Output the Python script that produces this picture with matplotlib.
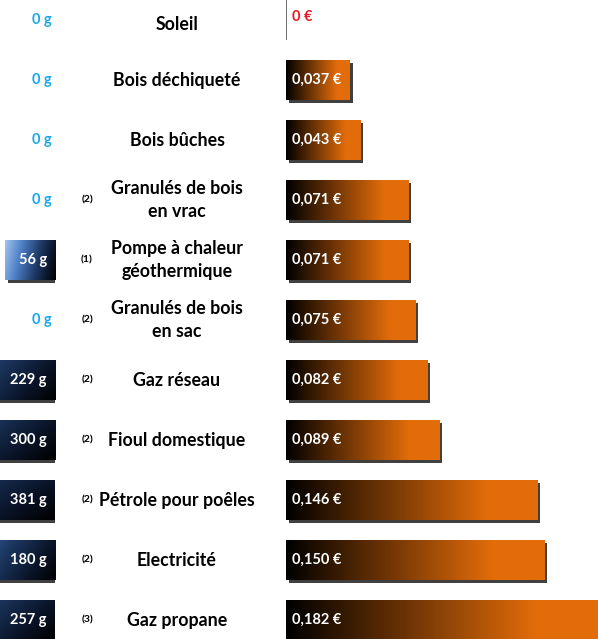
import numpy as np
import matplotlib
matplotlib.use("Agg")
import matplotlib.pyplot as plt
from matplotlib.colors import LinearSegmentedColormap
import matplotlib.patheffects as pe

# data
categories = ["Soleil", "Bois déchiqueté", "Bois bûches", "Granulés de bois\nen vrac",
              "Pompe à chaleur\ngéothermique", "Granulés de bois\nen sac", "Gaz réseau",
              "Fioul domestique", "Pétrole pour poêles", "Electricité", "Gaz propane"]
notes = ["", "", "", "(2)", "(1)", "(2)", "(2)", "(2)", "(2)", "(2)", "(3)"]
co2_g = [0, 0, 0, 0, 56, 0, 229, 300, 381, 180, 257]
price_eur = [0, 0.037, 0.043, 0.071, 0.071, 0.075, 0.082, 0.089, 0.146, 0.150, 0.182]

W, H = 598, 639
FONT = "Lato"
ORANGE = "#E36C0A"
LIGHT_BLUE = "#1AA7EC"
RED = "#E31B23"

orange_cmap = LinearSegmentedColormap.from_list(
    "orange", [(0, "#000000"), (0.8, ORANGE), (1, ORANGE)])
blue_cmap = LinearSegmentedColormap.from_list(
    "blue", [(0, "#A3C4F0"), (0.3, "#4E80C6"), (0.62, "#1E3A66"),
             (0.85, "#0A1428"), (1, "#000000")])

n = len(categories)
bar_h = 0.68
ylim = ((H - 20) / 60, -20 / 60)
co2_max = 61          # grams shown across the 55 px left panel
eur_px = 1722         # pixels per euro on the right panel

fig = plt.figure(figsize=(W / 100, H / 100), dpi=100)
ax_txt = fig.add_axes([0, 0, 1, 1])
ax_co2 = fig.add_axes([0, 0, 55 / W, 1])
ax_eur = fig.add_axes([286 / W, 0, 312 / W, 1])
for ax in (ax_txt, ax_co2, ax_eur):
    ax.set_axis_off()
    ax.patch.set_alpha(0)

shadow = [pe.SimplePatchShadow(offset=(2.2, -2.2), shadow_rgbFace="black", alpha=0.75),
          pe.Normal()]

# CO2 bars (clipped on the left, gradient runs over the whole bar)
ys = np.arange(n)
bars = ax_co2.barh(ys, co2_g, height=bar_h, color="#0A1428", zorder=1)
for b, v, y in zip(bars, co2_g, ys):
    if v == 0:
        ax_co2.text(co2_max * 3 / 55, y, "0 g", ha="right", va="center",
                    color=LIGHT_BLUE, fontsize=10.5, fontweight="bold", family=FONT)
        continue
    b.set_path_effects(shadow)
    hx = np.linspace(0, 1, 200)[None, :]
    vy = np.linspace(0, 1, 40)[:, None]
    grad = 0.85 * hx + 0.15 * vy
    im = ax_co2.imshow(grad, cmap=blue_cmap, vmin=0, vmax=1, aspect="auto",
                       extent=(v, 0, y + bar_h / 2, y - bar_h / 2), zorder=2,
                       interpolation="bilinear")
    im.set_clip_path(b)
    ax_co2.text(co2_max * 8 / 55, y, f"{v} g", ha="right", va="center", color="white",
                fontsize=10.5, fontweight="bold", family=FONT, zorder=3)
ax_co2.set_xlim(co2_max, 0)
ax_co2.set_ylim(*ylim)

# price bars
bars = ax_eur.barh(ys, price_eur, height=bar_h, color=ORANGE, zorder=1)
for b, v, y in zip(bars, price_eur, ys):
    if v == 0:
        b.set_edgecolor("#555555")
        b.set_linewidth(1.2)
        ax_eur.text(6 / eur_px, y - 0.05, "0 €", ha="left", va="center", color=RED,
                    fontsize=10.5, fontweight="bold", family=FONT)
        continue
    b.set_path_effects(shadow)
    im = ax_eur.imshow(np.linspace(0, 1, 256)[None, :], cmap=orange_cmap, vmin=0, vmax=1,
                       aspect="auto", extent=(0, v, y + bar_h / 2, y - bar_h / 2),
                       zorder=2, interpolation="bilinear")
    im.set_clip_path(b)
    label = f"{v:.3f}".replace(".", ",") + " €"
    ax_eur.text(6 / eur_px, y, label, ha="left", va="center", color="white",
                fontsize=10.5, fontweight="bold", family=FONT, zorder=3)
ax_eur.set_xlim(0, 312 / eur_px)
ax_eur.set_ylim(*ylim)

# category labels and footnotes
ax_txt.set_xlim(0, W)
ax_txt.set_ylim(*ylim)
for y, cat, note in zip(ys, categories, notes):
    dy = 0.08 if y == 0 else 0
    ax_txt.text(177, y + dy, cat, ha="center", va="center", fontsize=12.8,
                fontweight="bold", family=FONT, linespacing=1.4)
    if note:
        ax_txt.text(87, y, note, ha="center", va="center", fontsize=7.5,
                    fontweight="bold", family=FONT)

fig.savefig("out.png", dpi=100)
